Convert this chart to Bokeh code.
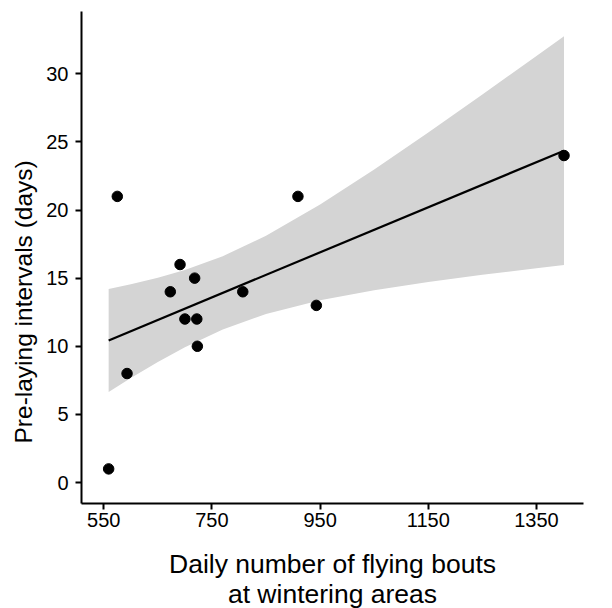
import numpy as np
from bokeh.plotting import figure
from bokeh.models import Range1d, FixedTicker, Title
from bokeh.embed import file_html
from bokeh.resources import INLINE

# Daily flying bouts at wintering areas vs. pre-laying interval (days)
flying_bouts = [559, 575, 593, 673, 691, 700, 718, 722, 723, 807, 909, 943, 1401]
prelaying_days = [1, 21, 8, 14, 16, 12, 15, 12, 10, 14, 21, 13, 24]

# 95% confidence band of the linear fit
band_x = [559, 600, 650, 700, 770, 850, 950, 1050, 1150, 1250, 1350, 1401]
band_lo = [6.65, 7.67, 8.85, 9.93, 11.23, 12.37, 13.38, 14.12, 14.71, 15.24, 15.72, 15.96]
band_hi = [14.21, 14.55, 15.02, 15.59, 16.61, 18.11, 20.41, 22.98, 25.69, 28.48, 31.30, 32.75]

x_ticks = [550, 750, 950, 1150, 1350]
y_ticks = [0, 5, 10, 15, 20, 25, 30]

FONT = "Liberation Sans"

p = figure(frame_width=502, frame_height=492, output_backend="svg", toolbar_location=None,
           x_range=Range1d(508.8, 1437), y_range=Range1d(-1.54, 34.57))
p.min_border_left = 81
p.min_border_right = 29
p.min_border_top = 11
p.min_border_bottom = 105
p.outline_line_color = None
p.grid.visible = False
p.background_fill_color = "white"
p.border_fill_color = "white"

for ax in (p.xaxis[0], p.yaxis[0]):
    ax.axis_line_width = 2
    ax.axis_line_color = "black"
    ax.major_tick_line_width = 2
    ax.major_tick_line_color = "black"
    ax.major_tick_out = 6
    ax.major_tick_in = 0
    ax.minor_tick_line_color = None
    ax.major_label_text_font = FONT
    ax.major_label_text_font_size = "20px"
    ax.major_label_text_color = "black"

p.xaxis.ticker = FixedTicker(ticks=x_ticks)
p.yaxis.ticker = FixedTicker(ticks=y_ticks)
p.xaxis.major_label_standoff = 3
p.yaxis.major_label_standoff = 7

# x axis title (two lines)
p.xaxis.axis_label = "Daily number of flying bouts\nat wintering areas"
p.xaxis.axis_label_text_font = FONT
p.xaxis.axis_label_text_font_size = "26.5px"
p.xaxis.axis_label_text_font_style = "normal"
p.xaxis.axis_label_text_color = "black"
p.xaxis.axis_label_text_line_height = 1.0
p.xaxis.axis_label_standoff = 19

# y axis title
p.add_layout(Title(text="Pre-laying intervals (days)", align="left", offset=60,
                   standoff=14, text_font=FONT, text_font_size="24.5px",
                   text_font_style="normal", text_color="black"), "left")

# confidence band
p.varea(x=band_x, y1=band_lo, y2=band_hi, fill_color="#d4d4d4", fill_alpha=1)

# least-squares line
slope, intercept = np.polyfit(flying_bouts, prelaying_days, 1)
fit_x = np.array([min(flying_bouts), max(flying_bouts)])
p.line(fit_x, slope * fit_x + intercept, line_color="black", line_width=2.2)

# observations
p.scatter(flying_bouts, prelaying_days, size=10.5, color="black")

open("out.html", "w").write(file_html(p, INLINE))
